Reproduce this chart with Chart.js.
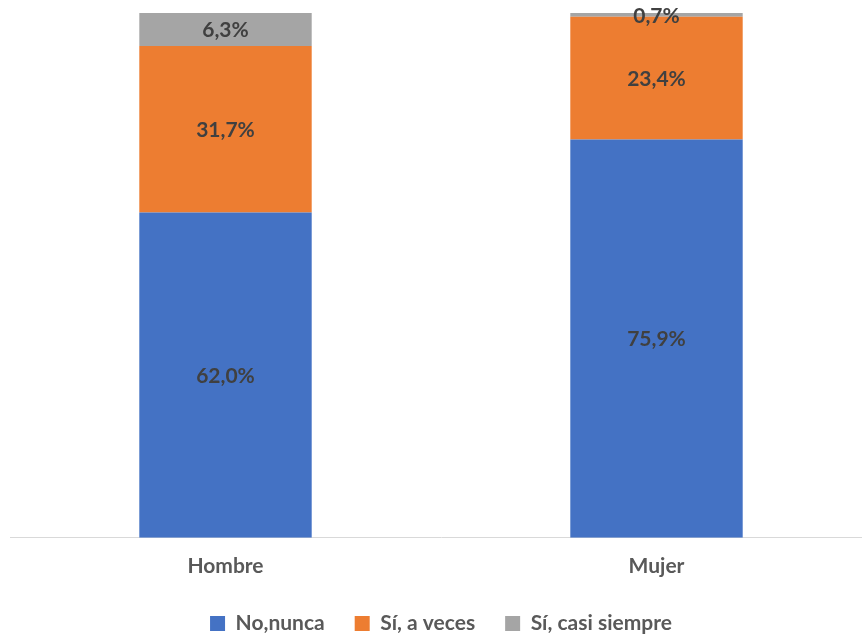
<!DOCTYPE html>
<html>
<head>
<meta charset="utf-8">
<script src="https://cdn.jsdelivr.net/npm/chart.js@4"></script>
<style>
  html, body { margin: 0; padding: 0; background: #fff; overflow: hidden; }
  #wrap { width: 872px; height: 644px; }
</style>
</head>
<body>
<div id="wrap"><canvas id="chart"></canvas></div>
<script>
const categories = ["Hombre", "Mujer"];
const seriesNames = ["No,nunca", "Sí, a veces", "Sí, casi siempre"];
const noNunca = [62.0, 75.9];
const aVeces = [31.7, 23.4];
const casiSiempre = [6.3, 0.7];
const colors = ["#4472c4", "#ed7d31", "#a5a5a5"];

// draw the percent labels in the middle of each segment
const segmentLabels = {
    id: "segmentLabels",
    afterDatasetsDraw(chart) {
        const ctx = chart.ctx;
        ctx.save();
        ctx.font = "bold 21px Lato";
        ctx.fillStyle = "#404040";
        ctx.textAlign = "center";
        ctx.textBaseline = "middle";
        chart.data.datasets.forEach((ds, i) => {
            chart.getDatasetMeta(i).data.forEach((bar, j) => {
                const p = bar.getProps(["x", "y", "base"], true);
                const txt = ds.data[j].toFixed(1).replace(".", ",") + "%";
                ctx.fillText(txt, p.x, (p.y + p.base) / 2 + 1);
            });
        });
        ctx.restore();
    }
};

const ctx = document.getElementById("chart").getContext("2d");
new Chart(ctx, {
    type: "bar",
    data: {
        labels: categories,
        datasets: [
            { label: seriesNames[0], data: noNunca, backgroundColor: colors[0] },
            { label: seriesNames[1], data: aVeces, backgroundColor: colors[1] },
            { label: seriesNames[2], data: casiSiempre, backgroundColor: colors[2] }
        ]
    },
    options: {
        responsive: true,
        maintainAspectRatio: false,
        animation: false,
        layout: { padding: { top: 13, left: 10, right: 0, bottom: 0 } },
        datasets: { bar: { barPercentage: 0.8, categoryPercentage: 0.5 } },
        scales: {
            x: {
                stacked: true,
                grid: { display: false },
                border: { color: "#d9d9d9", width: 1 },
                ticks: { color: "#595959", font: { family: "Lato", size: 21, weight: "bold" }, padding: 8 },
                afterFit: (scale) => { scale.height -= 4; }
            },
            y: {
                stacked: true,
                display: false,
                min: 0,
                max: 100
            }
        },
        plugins: {
            legend: {
                position: "bottom",
                labels: {
                    color: "#595959",
                    font: { family: "Lato", size: 21, weight: "bold" },
                    boxWidth: 15,
                    boxHeight: 15,
                    padding: 30
                }
            },
            tooltip: { enabled: false }
        }
    },
    plugins: [segmentLabels]
});
</script>
</body>
</html>
